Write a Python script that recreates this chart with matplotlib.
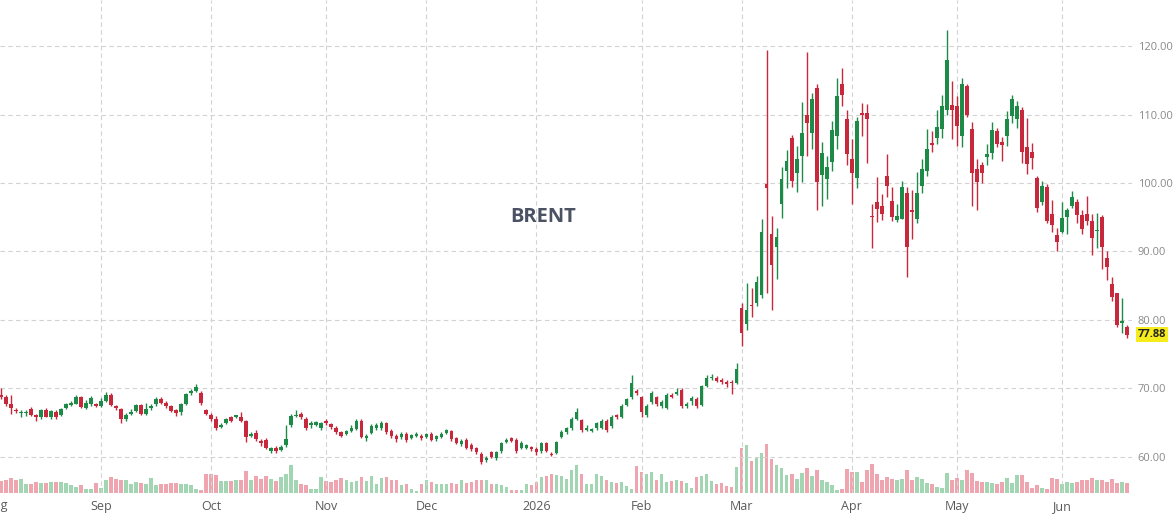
import matplotlib
matplotlib.use("Agg")
import matplotlib.pyplot as plt
import matplotlib.transforms as mtransforms
import numpy as np
import pandas as pd

# trading days (weekdays without the exchange holidays)
holidays = ["2025-12-25", "2026-01-01", "2026-04-03"]
dates = pd.bdate_range("2025-08-04", "2026-06-18").drop(pd.to_datetime(holidays))

opens = [
    69.1, 68.7, 67.7, 66.9, 66.4, 66.4, 67.0, 66.2, 65.8, 66.9,
    65.9, 66.6, 66.2, 67.1, 67.6, 67.8, 68.7, 67.2, 67.7, 67.7,
    67.5, 68.2, 69.1, 67.4, 67.0, 65.5, 66.3, 66.7, 67.6, 66.3,
    67.2, 67.7, 68.5, 67.9, 67.4, 66.8, 66.6, 67.8, 69.3, 69.6,
    69.4, 66.9, 66.2, 65.5, 64.4, 65.0, 65.8, 65.9, 65.8, 65.3,
    63.1, 63.5, 62.4, 62.5, 60.9, 61.3, 61.0, 61.7, 64.6, 66.0,
    66.3, 65.6, 64.6, 64.7, 64.3, 65.3, 64.8, 64.3, 63.6, 63.4,
    63.8, 64.1, 65.3, 62.8, 63.5, 64.2, 64.2, 64.9, 63.8, 63.1,
    62.9, 63.4, 62.8, 63.1, 63.1, 62.9, 63.4, 62.6, 62.9, 63.5,
    63.8, 62.7, 61.9, 62.5, 61.8, 61.3, 60.5, 59.5, 60.7, 59.8,
    60.8, 62.2, 62.7, 62.5, 61.3, 61.3, 61.4, 61.2, 60.8, 62.0,
    60.5, 60.6, 62.9, 63.7, 64.2, 65.6, 65.4, 64.0, 63.8, 64.2,
    64.3, 65.3, 64.5, 66.1, 65.9, 67.6, 68.7, 69.7, 68.7, 66.2,
    68.0, 68.7, 67.4, 67.2, 69.1, 69.2, 69.8, 67.5, 68.2, 68.5,
    67.6, 70.4, 71.5, 71.5, 71.3, 71.0, 71.0, 70.8, 81.7, 79.4,
    82.2, 82.5, 83.7, 99.9, 92.6, 90.6, 96.9, 101.8, 106.6, 101.5,
    104.0, 109.9, 107.3, 113.9, 101.1, 100.6, 103.0, 106.9, 114.5, 109.3,
    103.5, 100.8, 110.1, 110.2, 95.1, 97.2, 96.7, 101.0, 97.4, 94.6,
    94.8, 98.6, 96.1, 94.8, 99.6, 101.8, 105.9, 106.6, 107.9, 110.7,
    111.4, 111.3, 106.8, 114.1, 107.9, 102.0, 102.6, 103.8, 104.4, 107.6,
    106.0, 106.8, 109.8, 109.3, 110.6, 105.3, 104.5, 100.8, 97.3, 99.4,
    95.5, 92.4, 92.9, 95.0, 96.7, 97.2, 95.3, 95.5, 94.5, 93.0,
    95.0, 89.0, 85.2, 83.9, 79.6, 79.0,
]
highs = [
    70.0, 69.0, 69.1, 67.2, 66.9, 66.9, 67.3, 66.3, 67.0, 67.1,
    66.9, 66.8, 67.2, 67.9, 68.1, 69.1, 68.9, 68.3, 68.9, 67.9,
    68.6, 69.5, 69.3, 67.6, 67.1, 66.4, 67.0, 67.8, 67.8, 67.9,
    67.7, 68.7, 68.8, 68.1, 67.6, 67.0, 67.9, 69.4, 69.9, 70.7,
    69.6, 67.0, 66.4, 66.0, 64.9, 65.7, 66.0, 66.2, 66.5, 65.4,
    63.6, 63.9, 62.6, 62.7, 61.5, 61.6, 61.8, 64.6, 66.3, 66.8,
    66.6, 65.8, 65.3, 65.3, 65.1, 65.6, 65.0, 64.5, 63.8, 64.0,
    64.6, 65.5, 65.5, 63.3, 64.8, 64.9, 65.2, 65.1, 64.1, 63.3,
    63.6, 63.6, 63.4, 63.6, 63.3, 63.5, 63.6, 63.2, 63.6, 64.1,
    64.0, 62.9, 62.6, 62.7, 62.0, 61.5, 60.7, 60.2, 60.9, 60.9,
    62.2, 62.7, 62.9, 62.7, 62.3, 61.9, 61.6, 61.4, 62.2, 62.2,
    60.7, 62.4, 64.0, 64.4, 65.8, 67.1, 65.6, 64.6, 64.3, 65.1,
    65.5, 65.5, 66.1, 66.3, 67.7, 68.6, 71.9, 69.9, 68.9, 67.7,
    69.6, 68.9, 68.3, 69.3, 69.3, 70.1, 70.0, 68.0, 68.9, 68.7,
    70.5, 72.0, 72.1, 71.8, 71.6, 71.3, 71.2, 73.7, 82.5, 85.4,
    84.6, 86.4, 94.8, 119.4, 95.2, 93.5, 102.3, 104.8, 107.0, 105.4,
    111.8, 119.2, 113.1, 114.5, 106.0, 104.0, 109.0, 115.3, 116.8, 110.7,
    106.4, 109.6, 111.7, 111.6, 96.9, 100.9, 98.4, 104.2, 99.4, 96.9,
    100.3, 99.4, 99.0, 101.6, 103.5, 107.9, 107.6, 110.6, 112.9, 122.4,
    114.9, 112.7, 115.3, 114.5, 108.9, 103.5, 103.0, 105.7, 108.9, 108.1,
    106.7, 110.5, 112.8, 112.0, 111.1, 109.5, 105.9, 101.0, 100.3, 99.9,
    97.5, 93.5, 97.3, 96.4, 98.9, 97.7, 96.1, 98.1, 95.5, 95.6,
    95.3, 90.1, 86.3, 84.0, 83.2, 79.3,
]
lows = [
    68.4, 67.5, 66.3, 66.4, 65.9, 66.0, 66.0, 65.3, 65.6, 65.8,
    65.6, 65.6, 66.0, 67.0, 67.5, 67.7, 67.1, 67.0, 67.5, 67.3,
    67.3, 68.0, 67.4, 66.9, 65.0, 65.3, 66.1, 66.5, 66.1, 66.1,
    66.9, 67.5, 67.7, 67.2, 66.5, 66.0, 66.1, 67.6, 69.1, 69.5,
    67.6, 66.1, 65.2, 64.0, 64.3, 64.8, 65.1, 65.7, 65.1, 62.2,
    62.9, 62.4, 61.6, 61.1, 60.6, 60.6, 60.8, 61.5, 64.4, 65.9,
    65.6, 64.0, 64.3, 64.5, 64.0, 64.7, 64.1, 63.4, 62.9, 63.2,
    63.6, 63.9, 62.7, 62.4, 63.3, 64.0, 64.0, 63.4, 62.7, 62.2,
    62.6, 62.2, 62.6, 62.9, 62.5, 62.7, 62.3, 62.4, 62.7, 63.3,
    62.4, 61.9, 61.6, 61.1, 60.9, 60.4, 59.0, 59.3, 59.8, 59.6,
    60.6, 62.0, 62.2, 60.6, 61.1, 61.1, 60.8, 60.3, 60.6, 60.7,
    60.1, 60.4, 62.7, 63.4, 64.0, 65.4, 63.6, 63.8, 63.6, 64.0,
    64.1, 63.6, 64.3, 65.6, 65.7, 67.4, 68.5, 69.0, 65.8, 65.8,
    67.8, 67.4, 67.1, 67.0, 68.6, 69.0, 67.2, 67.2, 67.6, 67.2,
    67.4, 70.2, 71.3, 70.9, 70.7, 70.2, 69.2, 70.6, 76.2, 78.5,
    80.5, 82.0, 83.2, 83.9, 81.5, 86.0, 94.9, 99.3, 99.4, 98.7,
    100.1, 104.0, 104.9, 96.0, 96.6, 97.6, 101.7, 105.0, 111.3, 102.7,
    96.9, 99.2, 106.8, 102.9, 90.5, 94.3, 94.6, 97.9, 94.4, 94.3,
    94.7, 86.3, 91.8, 94.2, 98.6, 101.0, 104.6, 105.7, 106.5, 110.0,
    106.4, 105.4, 105.3, 109.6, 96.7, 96.1, 100.0, 102.6, 103.5, 105.2,
    103.2, 105.4, 108.7, 108.0, 102.9, 101.3, 102.0, 95.8, 96.8, 94.1,
    92.8, 90.1, 92.7, 92.6, 96.3, 94.2, 92.6, 93.9, 89.5, 90.5,
    87.4, 85.8, 82.8, 79.0, 78.1, 77.4,
]
closes = [
    68.7, 67.8, 67.1, 66.7, 66.6, 66.6, 66.2, 65.9, 66.8, 65.9,
    66.7, 65.8, 67.0, 67.7, 67.9, 68.8, 67.3, 67.9, 68.6, 67.5,
    68.2, 69.1, 67.6, 67.2, 65.5, 66.2, 66.5, 67.6, 66.3, 67.0,
    67.5, 68.4, 67.9, 67.4, 66.7, 66.4, 67.7, 69.2, 69.6, 70.2,
    67.9, 66.3, 65.5, 64.2, 64.7, 65.5, 65.3, 66.1, 65.3, 62.9,
    63.4, 62.6, 62.0, 61.3, 61.3, 60.9, 61.5, 62.6, 66.0, 66.2,
    65.8, 64.3, 65.0, 65.1, 64.9, 64.9, 64.4, 63.6, 63.1, 63.8,
    64.3, 65.3, 62.9, 63.1, 64.5, 64.7, 65.0, 63.6, 63.1, 62.6,
    63.4, 62.5, 63.2, 63.4, 62.7, 63.3, 62.5, 63.0, 63.4, 63.9,
    62.6, 62.1, 62.4, 61.3, 61.2, 60.7, 59.3, 59.8, 60.0, 60.7,
    62.0, 62.5, 62.4, 60.8, 62.1, 61.7, 61.1, 60.7, 62.0, 60.9,
    60.3, 62.2, 63.7, 64.2, 65.5, 66.6, 63.9, 64.3, 64.1, 64.9,
    65.3, 64.0, 65.9, 65.9, 67.5, 68.4, 70.8, 69.4, 66.5, 67.5,
    69.4, 67.7, 68.0, 69.0, 68.8, 69.5, 67.5, 67.8, 68.6, 67.5,
    70.3, 71.6, 71.7, 71.1, 70.9, 70.7, 70.8, 72.9, 78.1, 81.5,
    82.0, 85.6, 92.8, 99.3, 88.0, 92.1, 100.6, 103.2, 100.3, 103.5,
    107.3, 108.8, 112.2, 100.1, 104.4, 102.3, 107.8, 112.7, 112.9, 104.2,
    101.5, 109.0, 110.0, 109.4, 95.0, 96.2, 95.5, 99.6, 95.0, 95.2,
    99.4, 90.7, 95.8, 98.6, 102.0, 105.0, 105.5, 108.2, 111.3, 118.0,
    110.6, 108.3, 114.5, 109.9, 101.5, 100.2, 101.4, 104.2, 107.8, 105.7,
    105.6, 109.4, 112.2, 111.3, 104.6, 102.8, 103.7, 96.3, 99.6, 94.4,
    93.8, 91.4, 94.9, 96.0, 97.9, 95.3, 93.3, 94.5, 91.9, 93.2,
    90.7, 87.8, 83.4, 79.3, 79.8, 77.88,
]
volumes = [
    12.0, 12.7, 15.3, 12.7, 14.3, 8.7, 8.7, 11.0, 10.0, 10.0,
    11.0, 11.0, 11.0, 10.0, 7.7, 6.0, 7.7, 4.3, 4.3, 10.0,
    5.3, 13.3, 16.0, 14.3, 12.7, 12.7, 9.3, 11.0, 10.0, 9.3,
    15.3, 7.7, 9.3, 9.3, 10.0, 10.0, 9.3, 9.3, 7.7, 4.3,
    3.3, 19.3, 18.7, 17.7, 12.0, 12.0, 12.0, 12.7, 13.3, 22.0,
    13.3, 16.7, 14.3, 16.7, 14.3, 12.0, 16.0, 19.3, 27.7, 12.7,
    8.7, 7.7, 4.3, 4.3, 16.0, 12.0, 11.0, 13.3, 15.3, 13.3,
    11.0, 12.0, 16.0, 12.0, 16.7, 9.3, 15.3, 16.0, 13.3, 12.7,
    7.7, 8.7, 4.3, 2.0, 8.7, 12.7, 11.0, 9.3, 8.7, 9.3,
    10.0, 9.3, 12.7, 10.0, 11.0, 12.7, 13.3, 13.3, 9.3, 9.3,
    7.7, 6.0, 2.7, 2.7, 2.7, 9.3, 7.7, 11.0, 16.0, 16.7,
    18.7, 17.7, 16.7, 14.3, 23.3, 27.7, 19.3, 8.7, 8.7, 18.7,
    16.7, 13.3, 11.0, 10.0, 11.0, 6.7, 4.3, 26.7, 21.0, 18.7,
    21.0, 13.3, 18.7, 11.0, 12.0, 12.7, 12.0, 10.0, 5.3, 16.0,
    16.7, 19.3, 12.0, 9.3, 10.0, 6.7, 6.0, 26.0, 45.3, 47.7,
    32.0, 36.0, 40.0, 48.7, 34.3, 27.7, 25.3, 17.7, 18.7, 14.3,
    20.0, 25.3, 16.7, 23.3, 12.7, 11.0, 7.7, 3.3, 4.3, 24.3,
    21.0, 21.0, 11.0, 23.3, 28.7, 19.3, 13.3, 16.0, 14.3, 13.3,
    14.3, 23.3, 13.3, 16.0, 14.3, 10.0, 8.7, 6.0, 5.3, 20.0,
    13.3, 15.3, 12.7, 23.3, 20.0, 12.0, 11.0, 11.0, 10.0, 8.7,
    11.0, 15.3, 10.0, 17.7, 17.7, 11.0, 5.3, 7.7, 5.3, 4.3,
    15.3, 14.3, 9.3, 11.0, 10.0, 11.0, 13.3, 13.3, 15.3, 13.3,
    12.7, 11.0, 14.3, 10.0, 11.0, 10.0,
]

ticker = "BRENT"
price_ticks = [60, 70, 80, 90, 100, 110, 120]

UP = "#1e8a48"
DOWN = "#c7283b"
UP_VOL = "#a2d6b3"
DOWN_VOL = "#eea5af"
GRID = "#d2d2d2"

plt.rcParams["font.family"] = ["Open Sans", "DejaVu Sans"]

o = np.array(opens)
h = np.array(highs)
lo = np.array(lows)
c = np.array(closes)
x = np.arange(len(dates))
up = c >= o

fig = plt.figure(figsize=(11.76, 5.16), dpi=100)
ax = fig.add_axes([0, 23 / 516, 1132 / 1176, 493 / 516])
ax2 = ax.twinx()

# volume underneath
ax2.bar(x, volumes, width=0.72, color=np.where(up, UP_VOL, DOWN_VOL), linewidth=0)
ax2.set_ylim(0, 493)
ax2.set_yticks([])
for sp in ax2.spines.values():
    sp.set_visible(False)

# candles
colors = np.where(up, UP, DOWN)
ax.vlines(x, lo, h, colors=colors, linewidth=1.0, zorder=3)
body = np.maximum(np.abs(c - o), 0.18)
ax.bar(x, body, bottom=np.minimum(o, c), width=0.72, color=colors, linewidth=0, zorder=4)

ax.set_zorder(ax2.get_zorder() + 1)  # candles and grid in front of volume
ax.patch.set_visible(False)

ax.set_xlim(-0.2, 226.0)
ax.set_ylim(54.74, 126.72)

# month ticks at the first trading day of each month
month_idx = [i for i in range(1, len(dates)) if dates[i].month != dates[i - 1].month]
month_lbl = [str(dates[i].year) if dates[i].month == 1 else dates[i].strftime("%b") for i in month_idx]
ax.set_xticks(month_idx)
ax.set_xticklabels(month_lbl)
ax.set_yticks(price_ticks)
ax.set_yticklabels(["{:.2f}".format(v) for v in price_ticks])
ax.yaxis.tick_right()
ax.tick_params(axis="x", length=0, pad=5, labelsize=9, labelcolor="#5a5a5a")
ax.tick_params(axis="y", length=0, pad=4, labelsize=8, labelcolor="#8a8a8a")
ax.grid(True, color=GRID, linestyle=(0, (4, 3)), linewidth=0.8)
for sp in ax.spines.values():
    sp.set_visible(False)

# the month before Sep is cut by the left border, as in the source
ax.text(-1, -12 / 493, "Aug", transform=ax.get_xaxis_transform(), ha="center", va="center",
        fontsize=9, color="#5a5a5a", clip_on=False)

# last price marker
trans = mtransforms.blended_transform_factory(ax.transAxes, ax.transData)
ax.text(1.0 + 6 / 1132, closes[-1], "{:.2f}".format(closes[-1]), transform=trans, ha="left", va="center",
        fontsize=8, fontweight="bold", color="#222222",
        bbox=dict(boxstyle="square,pad=0.15", facecolor="#f4ec1c", edgecolor="none"))

fig.text(543 / 1176, 1 - 217 / 516, ticker, ha="center", va="center", fontsize=14.5,
         fontweight="bold", color="#4b5263")

fig.savefig("out.png", dpi=100)
